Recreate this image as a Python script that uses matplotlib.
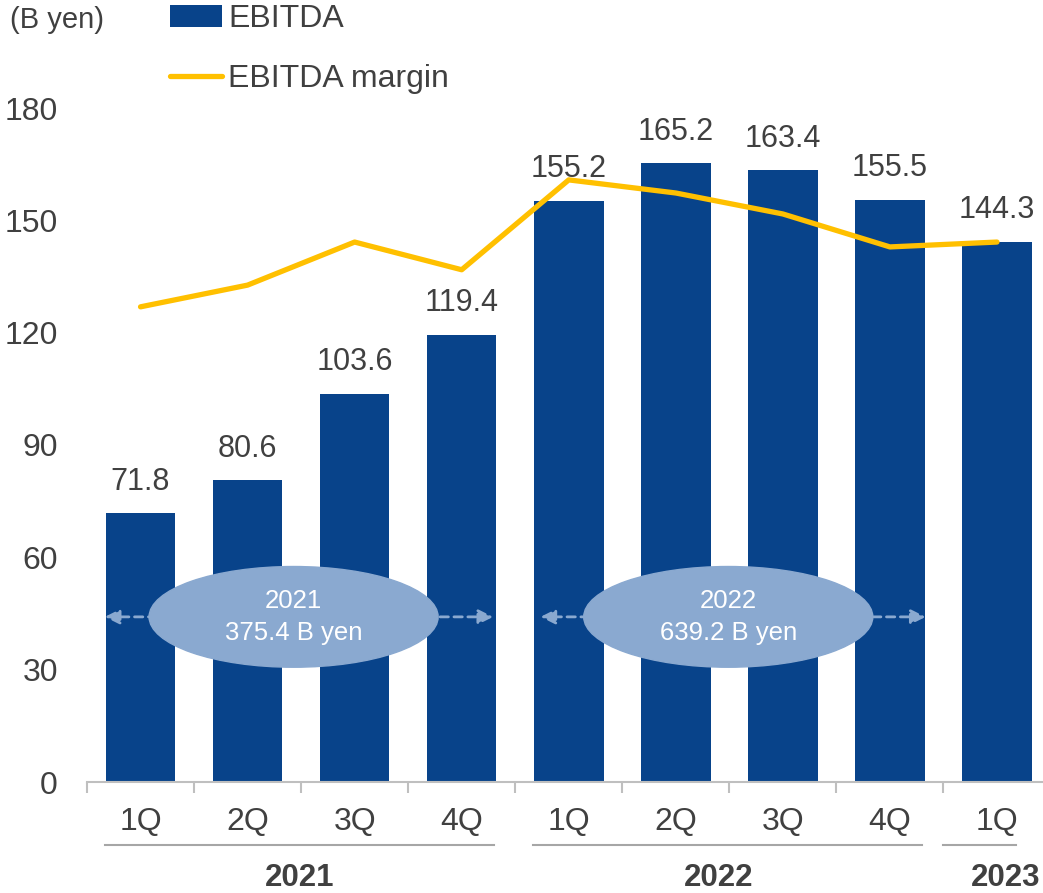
import matplotlib.pyplot as plt
from matplotlib.patches import Ellipse

plt.rcParams['font.family'] = ['Liberation Sans', 'DejaVu Sans']

# data
quarters = ['1Q', '2Q', '3Q', '4Q', '1Q', '2Q', '3Q', '4Q', '1Q']
ebitda = [71.8, 80.6, 103.6, 119.4, 155.2, 165.2, 163.4, 155.5, 144.3]
# margin line in left-axis units (no scale shown)
margin = [126.9, 132.7, 144.2, 136.8, 160.8, 157.3, 151.7, 142.9, 144.2]
years = ['2021', '2022', '2023']
year_spans = [(0, 3), (4, 7), (8, 8)]
totals = [('2021', '375.4 B yen'), ('2022', '639.2 B yen')]

bar_col = '#08438A'
line_col = '#FFC000'
oval_col = '#8AA9D0'
txt_col = '#404040'
grey = '#BFBFBF'

fig = plt.figure(figsize=(10.43, 8.93), dpi=100)
ax = fig.add_axes([87 / 1043, 1 - 782 / 893, 1 - 87 / 1043, (782 - 108) / 893])

x = list(range(len(ebitda)))
bars = ax.bar(x, ebitda, width=0.65, color=bar_col, label='EBITDA', zorder=2)
ln, = ax.plot(x, margin, color=line_col, lw=3.8, solid_capstyle='round',
              label='EBITDA margin', zorder=3)

for xi, v in zip(x, ebitda):
    ax.annotate(f'{v:.1f}', (xi, v), xytext=(0, 17), textcoords='offset points',
                ha='center', va='baseline', fontsize=22, color=txt_col,
                annotation_clip=False, zorder=1)

ax.set_xlim(-0.5, 8.43)
ax.set_ylim(0, 180)
ax.set_yticks(range(0, 181, 30))
ax.tick_params(axis='y', length=0, labelsize=23, labelcolor=txt_col, pad=21)
for s in ['top', 'right', 'left']:
    ax.spines[s].set_visible(False)
ax.spines['bottom'].set_color(grey)
ax.spines['bottom'].set_linewidth(1.5)
ax.set_xticks([i - 0.5 for i in range(len(ebitda))])
ax.set_xticklabels([])
ax.tick_params(axis='x', length=8, width=1.5, color=grey, direction='out')
for xi, q in zip(x, quarters):
    ax.text(xi, -10.8, q, ha='center', va='center', fontsize=23, color=txt_col,
            clip_on=False)

# year brackets
year_shift = [-0.01, -0.1, 0.08]
for yr, (a, b), dx in zip(years, year_spans, year_shift):
    x0, x1 = a - 0.33, b + 0.3
    if a == b:
        x0, x1 = a - 0.5, b + 0.18
    ax.plot([x0, x1], [-16.8, -16.8], color='#A6A6A6', lw=1.5, clip_on=False)
    ax.text((a + b) / 2 + dx, -25.7, yr, ha='center',
            va='center', fontsize=22.5, fontweight='bold', color=txt_col,
            clip_on=False)

# yearly totals with dashed arrows
oval_specs = [(1.43, -0.36, 3.32), (5.49, 3.71, 7.36)]
for (yr, amt), (cx, a0, a1) in zip(totals, oval_specs):
    ax.annotate('', xy=(a0, 44.1), xytext=(a1, 44.1),
                arrowprops=dict(arrowstyle='<|-|>', color=oval_col, lw=2,
                                ls=(0, (3, 2)), mutation_scale=22), zorder=4)
    ax.add_patch(Ellipse((cx, 44.1), 2.7, 26.9, color=oval_col, zorder=5))
    ax.text(cx, 44.1, f'{yr}\n{amt}', ha='center', va='center', fontsize=18.5,
            color='white', linespacing=1.4, zorder=6)

fig.text(10 / 1043, 1 - 20 / 893, '(B yen)', fontsize=21, color=txt_col,
         ha='left', va='center')

fig.legend([bars, ln], ['EBITDA', 'EBITDA margin'], loc='upper left',
           bbox_to_anchor=(170 / 1043, 1 - 4 / 893), frameon=False,
           fontsize=23, labelcolor=txt_col, handlelength=1.63,
           handletextpad=0.19, labelspacing=0.95, borderaxespad=0,
           borderpad=0)

fig.savefig('out.png', dpi=100)
